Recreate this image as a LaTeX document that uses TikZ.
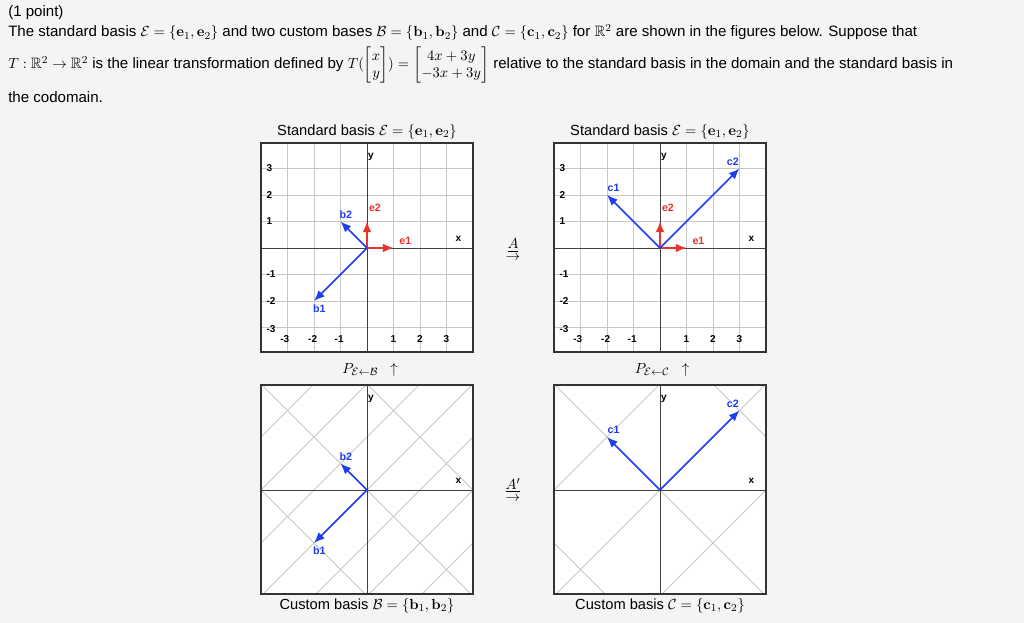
\documentclass[tikz,border=0pt]{standalone}
\usepackage{amsmath,amssymb}
\usepackage[no-math]{fontspec}
\setmainfont{Liberation Sans}
\usetikzlibrary{arrows.meta}
\begin{document}
\begin{tikzpicture}[x=0.75pt,y=-0.75pt,
  txt/.style={anchor=base west,inner sep=0pt,font=\fontsize{11.3}{13}\selectfont},
  tick/.style={inner sep=0pt,font=\fontsize{7.5}{8}\selectfont\bfseries},
  gridl/.style={draw=black!22,line width=0.6pt},
  axisl/.style={draw=black!75,line width=0.7pt},
  vec/.style={line width=1.1pt,-{Latex[length=8pt,width=6.5pt]}},
  vlab/.style={inner sep=0pt,font=\fontsize{8}{9}\selectfont\bfseries},
  ttl/.style={inner sep=0pt,font=\fontsize{11}{13}\selectfont}]
\definecolor{bg}{HTML}{F4F4F4}
\definecolor{vblue}{HTML}{1F3CF5}
\definecolor{vred}{HTML}{E8332A}
\useasboundingbox (0,0) rectangle (1024,623);
\fill[bg] (0,0) rectangle (1024,623);
% header
\node[txt] (l1) at (8,17) {(1 point)};
\node[txt] (l2) at (8,37) {The standard basis $\mathcal{E}=\{\mathbf{e}_1,\mathbf{e}_2\}$ and two custom bases $\mathcal{B}=\{\mathbf{b}_1,\mathbf{b}_2\}$ and $\mathcal{C}=\{\mathbf{c}_1,\mathbf{c}_2\}$ for $\mathbb{R}^2$ are shown in the figures below. Suppose that};
\node[txt] (l3) at (8,69) {$T:\mathbb{R}^2\to\mathbb{R}^2$ is the linear transformation defined by $T(\begin{bmatrix}x\\y\end{bmatrix})=\begin{bmatrix}4x+3y\\-3x+3y\end{bmatrix}$ relative to the standard basis in the domain and the standard basis in};
\node[txt] (l4) at (8,103) {the codomain.};
% panel boxes
\foreach \ox/\oy in {367/248,660/248,367/490,660/490}{
  \fill[white] (\ox-106,\oy-105) rectangle (\ox+106,\oy+104);
}
% standard grids
\foreach \ox in {367,660}{
\begin{scope}[shift={(\ox,248)},x=26.5*0.75pt,y=26.5*0.75pt]
  \foreach \k in {-3,...,3}{
    \draw[gridl] (\k,-3.95) -- (\k,3.95);
    \draw[gridl] (-4,\k) -- (4,\k);}
  \draw[axisl] (0,-3.95) -- (0,3.95);
  \draw[axisl] (-4,0) -- (4,0);
  \foreach \k in {3,2,1,-1,-2}{\node[tick,anchor=west] at (-3.8,\k) {\k};}
  \node[tick,anchor=west] at (-3.8,-3.05) {-3};
  \foreach \k/\p in {-3/-3.1,-2/-2.05,-1/-1.05,1/1,2/2,3/3}{\node[tick] at (\p,-3.45) {\k};}
  \node[tick] at (3.45,0.35) {x};
  \node[tick] at (0.15,3.45) {y};
\end{scope}}
% B custom grid
\begin{scope}[shift={(367,490)},x=26.5*0.75pt,y=26.5*0.75pt]
  \clip (-4,-3.95) rectangle (4,3.95);
  \foreach \c in {-6,-4,...,6}{\draw[gridl] ({-10+\c},-10) -- ({10+\c},10);}
  \foreach \c in {-4,0,4}{\draw[gridl] ({\c-10},10) -- ({\c+10},-10);}
  \draw[axisl] (0,-3.95) -- (0,3.95);
  \draw[axisl] (-4,0) -- (4,0);
\end{scope}
% C custom grid
\begin{scope}[shift={(660,490)},x=26.5*0.75pt,y=26.5*0.75pt]
  \clip (-4,-3.95) rectangle (4,3.95);
  \foreach \c in {-4,0,4}{\draw[gridl] ({-10+\c},-10) -- ({10+\c},10);}
  \foreach \c in {-6,0,6}{\draw[gridl] ({\c-10},10) -- ({\c+10},-10);}
  \draw[axisl] (0,-3.95) -- (0,3.95);
  \draw[axisl] (-4,0) -- (4,0);
\end{scope}
% vectors
\begin{scope}[shift={(367,248)},x=26.5*0.75pt,y=26.5*0.75pt]
  \coordinate (o1) at (0,0);
  \coordinate (e1) at (1,0); \coordinate (e2) at (0,1);
  \coordinate (b1) at (-2,-2); \coordinate (b2) at (-1,1);
  \draw[vec,vred] (o1) -- (e1); \draw[vec,vred] (o1) -- (e2);
  \draw[vec,vblue] (o1) -- (b1); \draw[vec,vblue] (o1) -- (b2);
  \node[vlab,text=vred] at (1.45,0.25) {e1};
  \node[vlab,text=vred] at (0.3,1.5) {e2};
  \node[vlab,text=vblue] at (-0.8,1.25) {b2};
  \node[vlab,text=vblue] at (-1.8,-2.3) {b1};
\end{scope}
\begin{scope}[shift={(660,248)},x=26.5*0.75pt,y=26.5*0.75pt]
  \coordinate (o2) at (0,0);
  \coordinate (f1) at (1,0); \coordinate (f2) at (0,1);
  \coordinate (c1) at (-2,2); \coordinate (c2) at (3,3);
  \draw[vec,vred] (o2) -- (f1); \draw[vec,vred] (o2) -- (f2);
  \draw[vec,vblue] (o2) -- (c1); \draw[vec,vblue] (o2) -- (c2);
  \node[vlab,text=vred] at (1.45,0.25) {e1};
  \node[vlab,text=vred] at (0.3,1.5) {e2};
  \node[vlab,text=vblue] at (-1.75,2.25) {c1};
  \node[vlab,text=vblue] at (2.75,3.25) {c2};
\end{scope}
\begin{scope}[shift={(367,490)},x=26.5*0.75pt,y=26.5*0.75pt]
  \coordinate (o3) at (0,0);
  \coordinate (bb1) at (-2,-2); \coordinate (bb2) at (-1,1);
  \draw[vec,vblue] (o3) -- (bb1); \draw[vec,vblue] (o3) -- (bb2);
  \node[vlab,text=vblue] at (-0.8,1.25) {b2};
  \node[vlab,text=vblue] at (-1.8,-2.3) {b1};
  \node[tick] at (3.45,0.35) {x};
  \node[tick] at (0.15,3.45) {y};
\end{scope}
\begin{scope}[shift={(660,490)},x=26.5*0.75pt,y=26.5*0.75pt]
  \coordinate (o4) at (0,0);
  \coordinate (cc1) at (-2,2); \coordinate (cc2) at (3,3);
  \draw[vec,vblue] (o4) -- (cc1); \draw[vec,vblue] (o4) -- (cc2);
  \node[vlab,text=vblue] at (-1.75,2.25) {c1};
  \node[vlab,text=vblue] at (2.75,3.25) {c2};
  \node[tick] at (3.45,0.35) {x};
  \node[tick] at (0.15,3.45) {y};
\end{scope}
% borders
\foreach \ox/\oy in {367/248,660/248,367/490,660/490}{
  \draw[black!80,line width=0.8pt] (\ox-106,\oy-105) rectangle (\ox+106,\oy+104);
}
% titles
\node[ttl] (t1) at (367,132) {Standard basis $\mathcal{E}=\{\mathbf{e}_1,\mathbf{e}_2\}$};
\node[ttl] (t2) at (660,132) {Standard basis $\mathcal{E}=\{\mathbf{e}_1,\mathbf{e}_2\}$};
\node[ttl] (t3) at (367,606) {Custom basis $\mathcal{B}=\{\mathbf{b}_1,\mathbf{b}_2\}$};
\node[ttl] (t4) at (660,606) {Custom basis $\mathcal{C}=\{\mathbf{c}_1,\mathbf{c}_2\}$};
\node[ttl] (p1) at (370,370) {$P_{\mathcal{E}\leftarrow\mathcal{B}}\ \ \uparrow$};
\node[ttl] (p2) at (662,370) {$P_{\mathcal{E}\leftarrow\mathcal{C}}\ \ \uparrow$};
\node[ttl,align=center,font=\fontsize{11}{9}\selectfont] (a1) at (513,250) {$\underline{A}$\\$\to$};
\node[ttl,align=center,font=\fontsize{11}{9}\selectfont] (a2) at (513,490) {$\underline{A'}$\\$\to$};
\end{tikzpicture}
\end{document}
